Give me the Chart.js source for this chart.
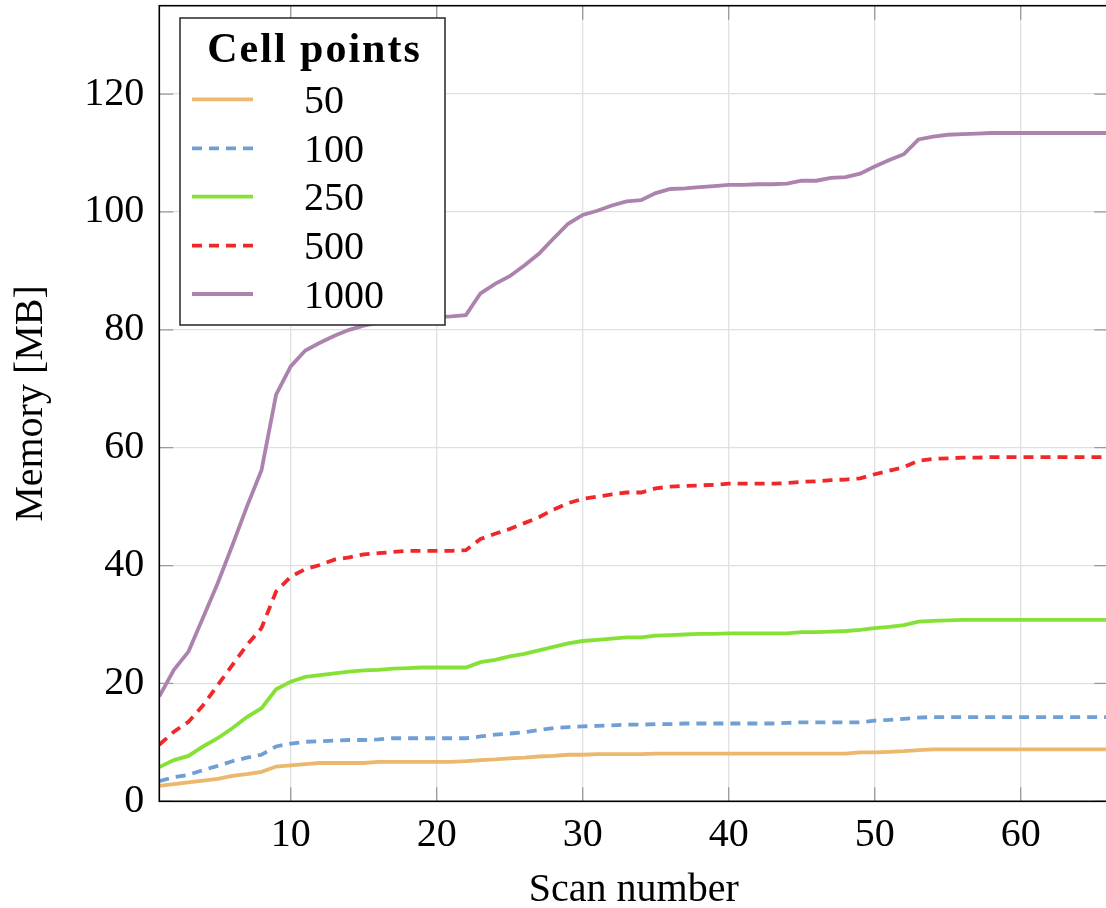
<!DOCTYPE html>
<html>
<head>
<meta charset="utf-8">
<script src="https://cdn.jsdelivr.net/npm/chart.js@4.4.1/dist/chart.umd.min.js"></script>
<style>
  html, body { margin: 0; padding: 0; background: #fff; overflow: hidden; }
  #wrap { width: 1106px; height: 908px; overflow: hidden; }
</style>
</head>
<body>
<div id="wrap"><canvas id="memChart" width="1110" height="908"></canvas></div>
<script>
// scan index on the x axis
const scans = [1, 2, 3, 4, 5, 6, 7, 8, 9, 10, 11, 12, 13, 14, 15, 16, 17, 18, 19, 20, 21, 22,
    23, 24, 25, 26, 27, 28, 29, 30, 31, 32, 33, 34, 35, 36, 37, 38, 39, 40, 41, 42, 43, 44,
    45, 46, 47, 48, 49, 50, 51, 52, 53, 54, 55, 56, 57, 58, 59, 60, 61, 62, 63, 64, 65, 66];

// memory usage in MB, one array per cell point count
const mem50 = [2.6, 2.9, 3.2, 3.5, 3.8, 4.3, 4.6, 5.0, 5.9, 6.1, 6.3, 6.5, 6.5, 6.5, 6.5, 6.7, 6.7, 6.7, 6.7, 6.7, 6.7, 6.8,
    7.0, 7.1, 7.3, 7.4, 7.6, 7.7, 7.9, 7.9, 8.0, 8.0, 8.0, 8.0, 8.1, 8.1, 8.1, 8.1, 8.1, 8.1, 8.1, 8.1, 8.1, 8.1,
    8.1, 8.1, 8.1, 8.1, 8.3, 8.3, 8.4, 8.5, 8.7, 8.8, 8.8, 8.8, 8.8, 8.8, 8.8, 8.8, 8.8, 8.8, 8.8, 8.8, 8.8, 8.8];
const mem100 = [3.4, 4.1, 4.5, 5.3, 6.0, 6.8, 7.4, 7.9, 9.3, 9.8, 10.1, 10.2, 10.3, 10.4, 10.4, 10.5, 10.7, 10.7, 10.7, 10.7, 10.7, 10.7,
    11.0, 11.3, 11.5, 11.7, 12.1, 12.4, 12.6, 12.7, 12.8, 12.9, 13.0, 13.0, 13.1, 13.1, 13.2, 13.2, 13.2, 13.2, 13.2, 13.2, 13.2, 13.3,
    13.4, 13.4, 13.4, 13.4, 13.4, 13.7, 13.8, 14.0, 14.2, 14.3, 14.3, 14.3, 14.3, 14.3, 14.3, 14.3, 14.3, 14.3, 14.3, 14.3, 14.3, 14.3];
const mem250 = [5.8, 7.0, 7.7, 9.3, 10.7, 12.4, 14.3, 15.8, 19.0, 20.3, 21.1, 21.4, 21.7, 22.0, 22.2, 22.3, 22.5, 22.6, 22.7, 22.7, 22.7, 22.7,
    23.6, 24.0, 24.6, 25.0, 25.6, 26.2, 26.8, 27.2, 27.4, 27.6, 27.8, 27.8, 28.1, 28.2, 28.3, 28.4, 28.4, 28.5, 28.5, 28.5, 28.5, 28.5,
    28.7, 28.7, 28.8, 28.9, 29.1, 29.4, 29.6, 29.9, 30.5, 30.6, 30.7, 30.8, 30.8, 30.8, 30.8, 30.8, 30.8, 30.8, 30.8, 30.8, 30.8, 30.8];
const mem500 = [9.6, 11.8, 13.5, 16.3, 19.7, 23.1, 26.5, 29.4, 35.6, 38.1, 39.4, 40.1, 41.0, 41.4, 41.9, 42.1, 42.3, 42.5, 42.5, 42.5, 42.5, 42.6,
    44.5, 45.4, 46.2, 47.2, 48.2, 49.5, 50.6, 51.3, 51.7, 52.1, 52.4, 52.4, 53.1, 53.4, 53.5, 53.6, 53.7, 53.9, 53.9, 53.9, 53.9, 54.0,
    54.2, 54.3, 54.5, 54.6, 54.8, 55.5, 56.1, 56.7, 57.8, 58.1, 58.2, 58.3, 58.3, 58.4, 58.4, 58.4, 58.4, 58.4, 58.4, 58.4, 58.4, 58.4];
const mem1000 = [17.8, 22.3, 25.4, 31.2, 37.0, 43.4, 50.0, 56.2, 69.0, 73.8, 76.5, 77.8, 79.0, 80.0, 80.7, 81.2, 81.6, 81.9, 82.1, 82.2, 82.3, 82.5,
    86.2, 87.8, 89.1, 90.9, 92.9, 95.5, 98.0, 99.5, 100.2, 101.1, 101.8, 102.0, 103.2, 103.9, 104.0, 104.2, 104.4, 104.6, 104.6, 104.7, 104.7, 104.8,
    105.3, 105.3, 105.8, 105.9, 106.5, 107.7, 108.8, 109.8, 112.3, 112.8, 113.1, 113.2, 113.3, 113.4, 113.4, 113.4, 113.4, 113.4, 113.4, 113.4, 113.4, 113.4];

const seriesLabels = ['50', '100', '250', '500', '1000'];
const seriesData = [mem50, mem100, mem250, mem500, mem1000];
const seriesColors = ['#ebb86e', '#6f9fd3', '#86e136', '#f0282a', '#ac82ae'];
const seriesDash = [[], [10, 7], [], [10, 7], []];

const xTicks = [10, 20, 30, 40, 50, 60];
const yTicks = [0, 20, 40, 60, 80, 100, 120];

const FONT = '"Liberation Serif", "Times New Roman", serif';
const LINE_W = 3.8;

// inward tick marks, frame, axis titles and the legend box
const decorations = {
    id: 'decorations',
    afterDatasetsDraw(chart) {
        const { ctx, chartArea: a, scales } = chart;
        ctx.save();
        ctx.strokeStyle = '#9a9a9a';
        ctx.lineWidth = 1.3;
        const len = 14;
        ctx.beginPath();
        yTicks.forEach(v => {
            const y = scales.y.getPixelForValue(v);
            ctx.moveTo(a.left, y); ctx.lineTo(a.left + len, y);
            ctx.moveTo(a.right, y); ctx.lineTo(a.right - len, y);
        });
        xTicks.forEach(v => {
            const x = scales.x.getPixelForValue(v);
            ctx.moveTo(x, a.bottom); ctx.lineTo(x, a.bottom - len);
            ctx.moveTo(x, a.top); ctx.lineTo(x, a.top + len);
        });
        ctx.stroke();

        ctx.strokeStyle = '#000';
        ctx.lineWidth = 1.6;
        ctx.strokeRect(a.left, a.top, a.right - a.left, a.bottom - a.top);
        ctx.restore();
    },
    afterDraw(chart) {
        const { ctx, chartArea: a } = chart;
        ctx.save();
        ctx.fillStyle = '#000';
        ctx.font = '40px ' + FONT;
        ctx.textAlign = 'center';
        ctx.textBaseline = 'alphabetic';
        ctx.fillText('Scan number', (a.left + a.right) / 2, 901);

        ctx.translate(42, (a.top + a.bottom) / 2);
        ctx.rotate(-Math.PI / 2);
        ctx.fillText('Memory [MB]', 0, 0);
        ctx.restore();

        // legend
        const box = { x: 180, y: 18, w: 265, h: 307 };
        ctx.save();
        ctx.fillStyle = '#fff';
        ctx.fillRect(box.x, box.y, box.w, box.h);
        ctx.strokeStyle = '#333';
        ctx.lineWidth = 1.6;
        ctx.strokeRect(box.x, box.y, box.w, box.h);

        ctx.fillStyle = '#000';
        ctx.font = 'bold 42px ' + FONT;
        ctx.letterSpacing = '2px';
        ctx.textAlign = 'center';
        ctx.fillText('Cell points', box.x + box.w / 2 + 2, 62);
        ctx.letterSpacing = '0px';

        ctx.font = '40px ' + FONT;
        ctx.textAlign = 'left';
        const rows = [99.3, 148.3, 196.7, 245.7, 294];
        seriesLabels.forEach((lab, i) => {
            const y = rows[i];
            ctx.strokeStyle = seriesColors[i];
            ctx.lineWidth = LINE_W;
            ctx.setLineDash(seriesDash[i]);
            ctx.beginPath();
            ctx.moveTo(192, y);
            ctx.lineTo(253, y);
            ctx.stroke();
            ctx.setLineDash([]);
            ctx.fillText(lab, 304, y + 13.5);
        });
        ctx.restore();
    }
};

const ctx = document.getElementById('memChart').getContext('2d');
new Chart(ctx, {
    type: 'line',
    data: {
        datasets: seriesLabels.map((lab, i) => ({
            label: lab,
            data: scans.map((s, j) => ({ x: s, y: seriesData[i][j] })),
            borderColor: seriesColors[i],
            borderWidth: LINE_W,
            borderDash: seriesDash[i],
            pointRadius: 0,
            tension: 0,
            fill: false
        }))
    },
    options: {
        responsive: false,
        animation: false,
        devicePixelRatio: 1,
        layout: { padding: { top: 5.7, right: 1.7, left: 0, bottom: 0 } },
        plugins: {
            legend: { display: false },
            tooltip: { enabled: false }
        },
        scales: {
            x: {
                type: 'linear',
                min: 1,
                max: 66,
                afterBuildTicks: scale => {
                    scale.ticks = xTicks.map(v => ({ value: v }));
                },
                afterFit: scale => {
                    scale.height = 908 - 801.3;
                    scale.paddingLeft = 0;
                    scale.paddingRight = 0;
                },
                grid: { color: '#e0e0e0', lineWidth: 1.3, drawTicks: false },
                border: { display: false },
                ticks: {
                    color: '#000',
                    padding: 10,
                    maxRotation: 0,
                    font: { family: FONT, size: 40 }
                }
            },
            y: {
                min: 0,
                max: 135,
                afterBuildTicks: scale => {
                    scale.ticks = yTicks.map(v => ({ value: v }));
                },
                afterFit: scale => {
                    scale.width = 159.3;
                    scale.paddingTop = 0;
                    scale.paddingBottom = 0;
                },
                grid: { color: '#e0e0e0', lineWidth: 1.3, drawTicks: false },
                border: { display: false },
                ticks: {
                    color: '#000',
                    padding: 15,
                    font: { family: FONT, size: 40 }
                }
            }
        }
    },
    plugins: [decorations]
});
</script>
</body>
</html>
